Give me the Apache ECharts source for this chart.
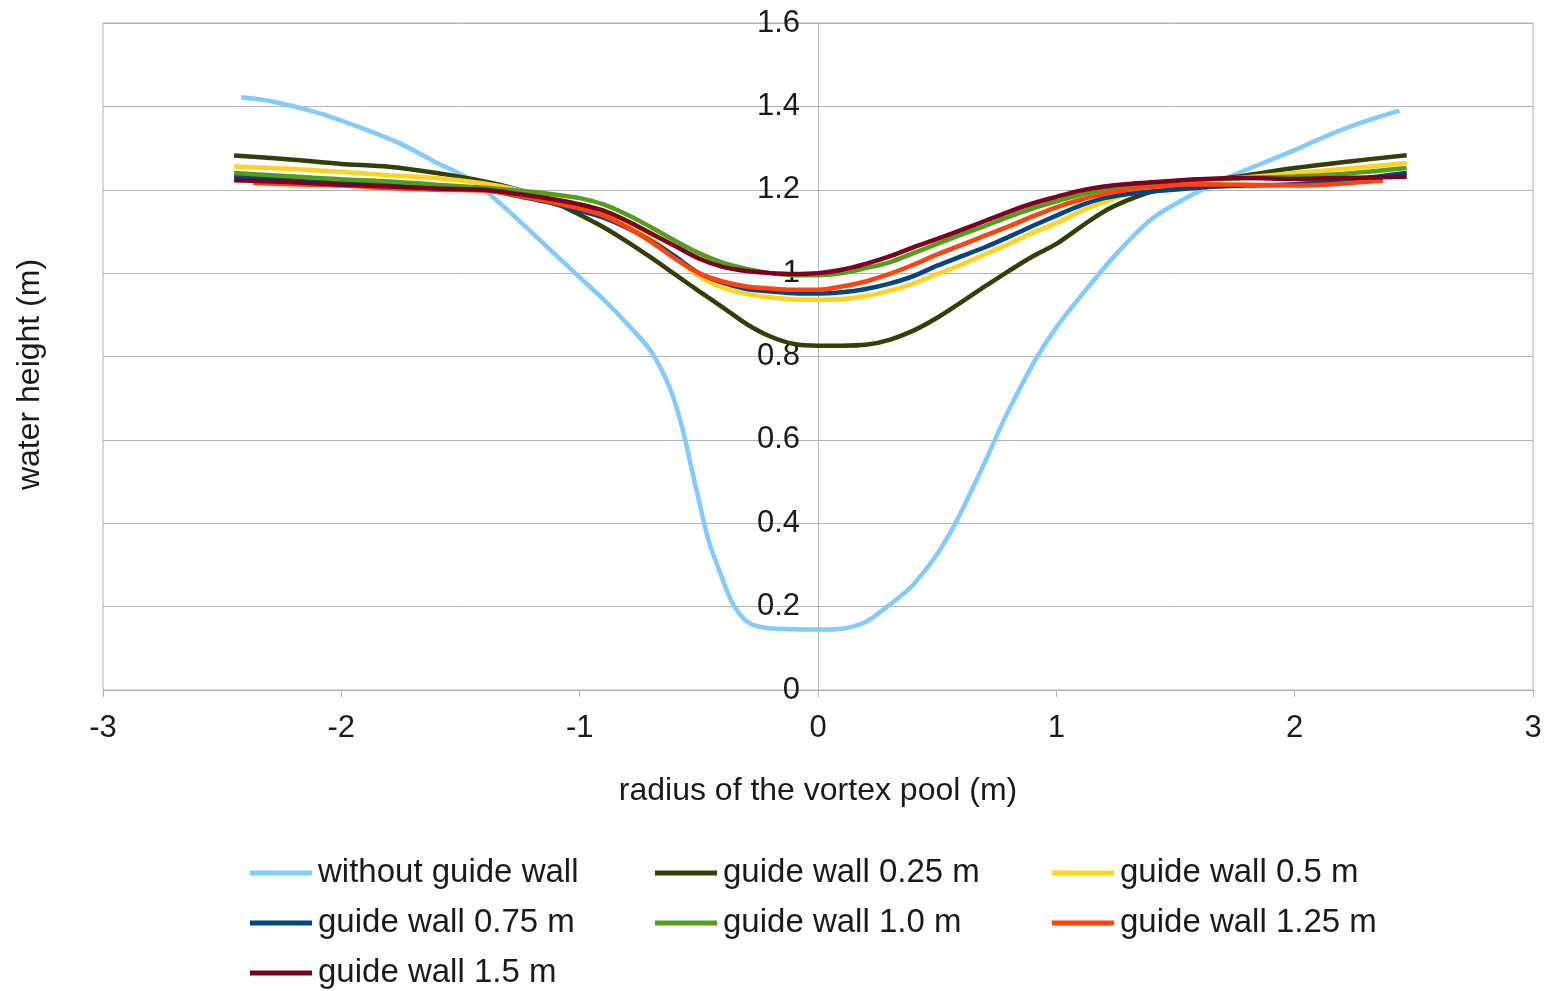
<!DOCTYPE html>
<html>
<head>
<meta charset="utf-8">
<script src="https://cdn.jsdelivr.net/npm/echarts@6/dist/echarts.min.js"></script>
<style>
  html, body { margin: 0; padding: 0; background: #ffffff; }
  #chart { width: 1547px; height: 991px; }
</style>
</head>
<body>
<div id="chart"></div>
<script>
// ---- data ----
const seriesNames = [
  'without guide wall', 'guide wall 0.25 m', 'guide wall 0.5 m',
  'guide wall 0.75 m', 'guide wall 1.0 m', 'guide wall 1.25 m', 'guide wall 1.5 m'
];
const seriesColors = ['#83caff', '#314004', '#ffd320', '#004586', '#579d1c', '#ff420e', '#7e0021'];

const xsNoWall = [-2.42, -2.3, -2.1, -1.9, -1.75, -1.6, -1.45, -1.3, -1.15, -1.0, -0.9, -0.8, -0.7,
  -0.62, -0.57, -0.53, -0.5, -0.46, -0.41, -0.36, -0.3, -0.23, -0.1, 0, 0.1, 0.2, 0.29, 0.39, 0.48,
  0.55, 0.62, 0.71, 0.78, 0.85, 0.92, 1.0, 1.1, 1.25, 1.4, 1.55, 1.7, 1.85, 2.0, 2.15, 2.3, 2.44];
const ysNoWall = [1.422, 1.413, 1.385, 1.345, 1.31, 1.265, 1.222, 1.15, 1.07, 0.99, 0.937, 0.878, 0.812,
  0.722, 0.63, 0.53, 0.455, 0.36, 0.28, 0.21, 0.165, 0.15, 0.146, 0.145, 0.147, 0.163, 0.2, 0.247, 0.31,
  0.372, 0.45, 0.559, 0.648, 0.727, 0.8, 0.87, 0.943, 1.045, 1.13, 1.182, 1.225, 1.26, 1.295, 1.333, 1.365, 1.39];

const xsWall = [-2.45, -2.2, -2.0, -1.8, -1.6, -1.4, -1.3, -1.2, -1.1, -1.0, -0.9, -0.8, -0.7, -0.6, -0.5, -0.4,
  -0.3, -0.2, -0.1, 0, 0.1, 0.2, 0.3, 0.4, 0.5, 0.6, 0.7, 0.8, 0.9, 1.0, 1.1, 1.2, 1.3, 1.4, 1.6, 1.8, 2.0, 2.2, 2.47];
const xsWall125 = [-2.37, -2.2, -2.0, -1.8, -1.6, -1.4, -1.3, -1.2, -1.1, -1.0, -0.9, -0.8, -0.7, -0.6, -0.5, -0.4,
  -0.3, -0.2, -0.1, 0, 0.1, 0.2, 0.3, 0.4, 0.5, 0.6, 0.7, 0.8, 0.9, 1.0, 1.1, 1.2, 1.3, 1.4, 1.6, 1.8, 2.0, 2.2, 2.37];

const ysWall025 = [1.282, 1.272, 1.262, 1.255, 1.24, 1.22, 1.207, 1.19, 1.168, 1.14, 1.11, 1.075, 1.037, 0.997, 0.957, 0.918,
  0.878, 0.848, 0.83, 0.826, 0.826, 0.828, 0.84, 0.862, 0.893, 0.93, 0.968, 1.005, 1.04, 1.07, 1.11, 1.148, 1.175, 1.195,
  1.218, 1.235, 1.252, 1.266, 1.283];
const ysWall05 = [1.256, 1.25, 1.243, 1.235, 1.228, 1.215, 1.205, 1.19, 1.177, 1.16, 1.145, 1.115, 1.083, 1.04, 0.993, 0.965,
  0.95, 0.942, 0.937, 0.936, 0.938, 0.945, 0.958, 0.975, 0.998, 1.02, 1.045, 1.07, 1.097, 1.12, 1.148, 1.17, 1.19, 1.204,
  1.22, 1.23, 1.24, 1.25, 1.264];
const ysWall075 = [1.232, 1.225, 1.22, 1.215, 1.208, 1.2, 1.19, 1.178, 1.165, 1.15, 1.133, 1.108, 1.077, 1.04, 1.0, 0.977,
  0.962, 0.956, 0.952, 0.951, 0.954, 0.962, 0.975, 0.993, 1.018, 1.04, 1.062, 1.087, 1.113, 1.138, 1.162, 1.18, 1.19, 1.196,
  1.205, 1.21, 1.213, 1.222, 1.24];
const ysWall10 = [1.24, 1.232, 1.225, 1.22, 1.212, 1.205, 1.2, 1.195, 1.188, 1.18, 1.165, 1.14, 1.11, 1.078, 1.048, 1.025,
  1.01, 1.0, 0.995, 0.995, 1.0, 1.012, 1.026, 1.048, 1.07, 1.092, 1.113, 1.135, 1.155, 1.172, 1.188, 1.2, 1.208, 1.215,
  1.225, 1.228, 1.232, 1.238, 1.252];
const ysWall125 = [1.216, 1.213, 1.21, 1.204, 1.2, 1.198, 1.19, 1.18, 1.168, 1.155, 1.138, 1.11, 1.075, 1.035, 1.0, 0.98,
  0.968, 0.963, 0.96, 0.96, 0.968, 0.98, 0.998, 1.02, 1.045, 1.067, 1.09, 1.112, 1.136, 1.158, 1.176, 1.19, 1.2, 1.207,
  1.213, 1.212, 1.21, 1.215, 1.222];
const ysWall15 = [1.223, 1.218, 1.212, 1.208, 1.203, 1.2, 1.193, 1.185, 1.176, 1.165, 1.15, 1.125, 1.095, 1.065, 1.035, 1.015,
  1.005, 1.0, 0.998, 1.0, 1.008, 1.022, 1.04, 1.062, 1.082, 1.103, 1.125, 1.147, 1.167, 1.183, 1.198, 1.208, 1.214, 1.218,
  1.225, 1.228, 1.226, 1.228, 1.231];

const xAxisMin = -3, xAxisMax = 3, xAxisStep = 1;
const yAxisMin = 0, yAxisMax = 1.6, yAxisStep = 0.2;

// ---- build chart ----
function pairs(xs, ys) { return xs.map((x, i) => [x, ys[i]]); }
const seriesData = [
  pairs(xsNoWall, ysNoWall),
  pairs(xsWall, ysWall025),
  pairs(xsWall, ysWall05),
  pairs(xsWall, ysWall075),
  pairs(xsWall, ysWall10),
  pairs(xsWall125, ysWall125),
  pairs(xsWall, ysWall15)
];

const textColor = '#1a1a1a';
const gridColor = '#b3b3b3';
const fontFamily = '"Liberation Sans", Arial, sans-serif';
const gridLeft = 103, gridRight = 14;
const plotWidth = 1547 - gridLeft - gridRight;
const zeroOffset = plotWidth * (0 - xAxisMin) / (xAxisMax - xAxisMin);

function legendCol(left, names) {
  return {
    orient: 'vertical', left: left, top: 855, padding: 0,
    icon: 'rect', itemWidth: 62, itemHeight: 5, itemGap: 14,
    data: names,
    textStyle: { color: textColor, fontSize: 33, fontFamily: fontFamily, lineHeight: 36, padding: [0, 0, 0, 1] }
  };
}

const chart = echarts.init(document.getElementById('chart'), null, { renderer: 'canvas' });
chart.setOption({
  animation: false,
  backgroundColor: '#ffffff',
  grid: { left: gridLeft, right: gridRight, top: 23, bottom: 301, containLabel: false, outerBoundsMode: 'none',
          show: true, borderColor: gridColor, borderWidth: 1, backgroundColor: 'transparent' },
  xAxis: {
    type: 'value', min: xAxisMin, max: xAxisMax, interval: xAxisStep,
    name: 'radius of the vortex pool (m)', nameLocation: 'middle', nameGap: 85,
    nameTextStyle: { color: textColor, fontSize: 32, fontFamily: fontFamily },
    axisLine: { show: true, onZero: false, lineStyle: { color: gridColor, width: 1 } },
    axisTick: { show: true, length: 7, lineStyle: { color: gridColor } },
    axisLabel: { color: textColor, fontSize: 31, fontFamily: fontFamily, margin: 23, showMinLabel: true, showMaxLabel: true },
    splitLine: { show: false }
  },
  yAxis: [{
    type: 'value', min: yAxisMin, max: yAxisMax, interval: yAxisStep, position: 'left',
    offset: -zeroOffset,
    axisLine: { show: true, onZero: false, lineStyle: { color: gridColor, width: 1 } },
    axisTick: { show: false },
    axisLabel: { color: textColor, fontSize: 31, fontFamily: fontFamily, margin: 18, showMinLabel: true, showMaxLabel: true },
    splitLine: { show: true, lineStyle: { color: gridColor, width: 1 } }
  }, {
    type: 'value', min: yAxisMin, max: yAxisMax, interval: yAxisStep, position: 'left', offset: 0,
    name: 'water height (m)', nameLocation: 'middle', nameGap: 57,
    nameTextStyle: { color: textColor, fontSize: 32, fontFamily: fontFamily, padding: [0, 36, 0, 0] },
    axisLine: { show: false }, axisTick: { show: false }, axisLabel: { show: false }, splitLine: { show: false }
  }],
  legend: [
    legendCol(250, [seriesNames[0], seriesNames[3], seriesNames[6]]),
    legendCol(655, [seriesNames[1], seriesNames[4]]),
    legendCol(1052, [seriesNames[2], seriesNames[5]])
  ],
  series: seriesNames.map((name, i) => ({
    name: name, type: 'line', yAxisIndex: 0,
    data: seriesData[i],
    smooth: 0.3, symbol: 'none',
    lineStyle: { color: seriesColors[i], width: 4.5 },
    itemStyle: { color: seriesColors[i] }
  }))
});
</script>
</body>
</html>
